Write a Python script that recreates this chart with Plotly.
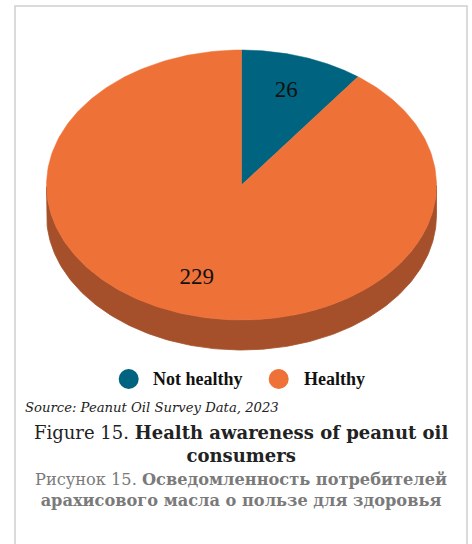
import numpy as np
import plotly.graph_objects as go

# Survey answers: is peanut oil healthy?
labels = ["Not healthy", "Healthy"]
values = [26, 229]
top_colors = ["#00637F", "#EE7138"]
side_colors = ["#004A5F", "#A5502A"]

W, H = 472, 544
# ellipse of the pie's top face (pixel space) and the thickness of its rim
cx, cy, rx, ry, depth = 241.5, 185, 195, 135, 30


def pt(t_deg, dy=0.0):
    t = np.radians(t_deg)
    return cx + rx * np.cos(t), cy - ry * np.sin(t) + dy


fig = go.Figure()

total = float(sum(values))
start = 90.0
slices = []
for lab, v, c, sc in zip(labels, values, top_colors, side_colors):
    sweep = 360.0 * v / total
    slices.append((lab, v, c, sc, start, start - sweep))
    start -= sweep

# rim: only the front (lower) half of each slice is visible
for lab, v, c, sc, a0, a1 in slices:
    ts = np.linspace(a0, a1, 400)
    front = np.sin(np.radians(ts)) <= 1e-9
    runs, cur = [], []
    for t, f in zip(ts, front):
        if f:
            cur.append(t)
        elif cur:
            runs.append(cur)
            cur = []
    if cur:
        runs.append(cur)
    for run in runs:
        run = np.array(run)
        xt, yt = pt(run)
        xb, yb = pt(run[::-1], depth)
        fig.add_trace(go.Scatter(
            x=np.concatenate([xt, xb, xt[:1]]),
            y=np.concatenate([yt, yb, yt[:1]]),
            mode="lines", fill="toself", fillcolor=sc,
            line=dict(color=sc, width=0.8), hoverinfo="skip", showlegend=False))

# top faces
for lab, v, c, sc, a0, a1 in slices:
    ts = np.linspace(a0, a1, 300)
    xa, ya = pt(ts)
    fig.add_trace(go.Scatter(
        x=np.concatenate([[cx], xa, [cx]]),
        y=np.concatenate([[cy], ya, [cy]]),
        mode="lines", fill="toself", fillcolor=c,
        line=dict(color=c, width=0.5), hoverinfo="skip", showlegend=False))

# value labels at the middle of each slice
lx, ly = [], []
for lab, v, c, sc, a0, a1 in slices:
    mid = np.radians((a0 + a1) / 2)
    lx.append(cx + 0.73 * rx * np.cos(mid))
    ly.append(cy - 0.73 * ry * np.sin(mid))
fig.add_trace(go.Scatter(
    x=lx, y=ly, mode="text", text=[str(v) for v in values],
    textfont=dict(family="Liberation Serif", size=23, color="#111111"),
    hoverinfo="skip", showlegend=False))

# legend
leg_y = 379
leg_marker_x = [128.7, 278.7]
leg_text_x = [151, 302]
fig.add_trace(go.Scatter(
    x=leg_marker_x, y=[leg_y, leg_y], mode="markers",
    marker=dict(size=20, color=top_colors), hoverinfo="skip", showlegend=False))
for lab, x in zip(labels, leg_text_x):
    fig.add_annotation(x=x, y=leg_y, text=f"<b>{lab}</b>", showarrow=False,
                       xanchor="left", yanchor="middle",
                       font=dict(family="Liberation Serif", size=18, color="#111111"))

# captions
serif = "DejaVu Serif"
fig.add_annotation(x=23, y=407, text="<i>Source: Peanut Oil Survey Data, 2023</i>",
                   showarrow=False, xanchor="left", yanchor="middle",
                   font=dict(family=serif, size=13.2, color="#222222"))
fig.add_annotation(x=241, y=443.5,
                   text="Figure 15. <b>Health awareness of peanut oil</b><br><b>consumers</b>",
                   showarrow=False, xanchor="center", yanchor="middle", align="center",
                   font=dict(family=serif, size=18, color="#222222"))
fig.add_annotation(x=241, y=489.5,
                   text="Рисунок 15. <b>Осведомленность потребителей</b><br>"
                        "<b>арахисового масла о пользе для здоровья</b>",
                   showarrow=False, xanchor="center", yanchor="middle", align="center",
                   font=dict(family=serif, size=16.2, color="#7a7a7a"))

# frame around the figure block
fig.add_shape(type="rect", xref="x", yref="y", x0=15, x1=467, y0=6, y1=580,
              line=dict(color="#cfcfcf", width=1.5), fillcolor="rgba(0,0,0,0)")

fig.update_layout(
    width=W, height=H, margin=dict(l=0, r=0, t=0, b=0),
    paper_bgcolor="white", plot_bgcolor="white",
    xaxis=dict(range=[0, W], visible=False, fixedrange=True),
    yaxis=dict(range=[H, 0], visible=False, fixedrange=True),
    showlegend=False,
)

fig.write_html("out.html")
